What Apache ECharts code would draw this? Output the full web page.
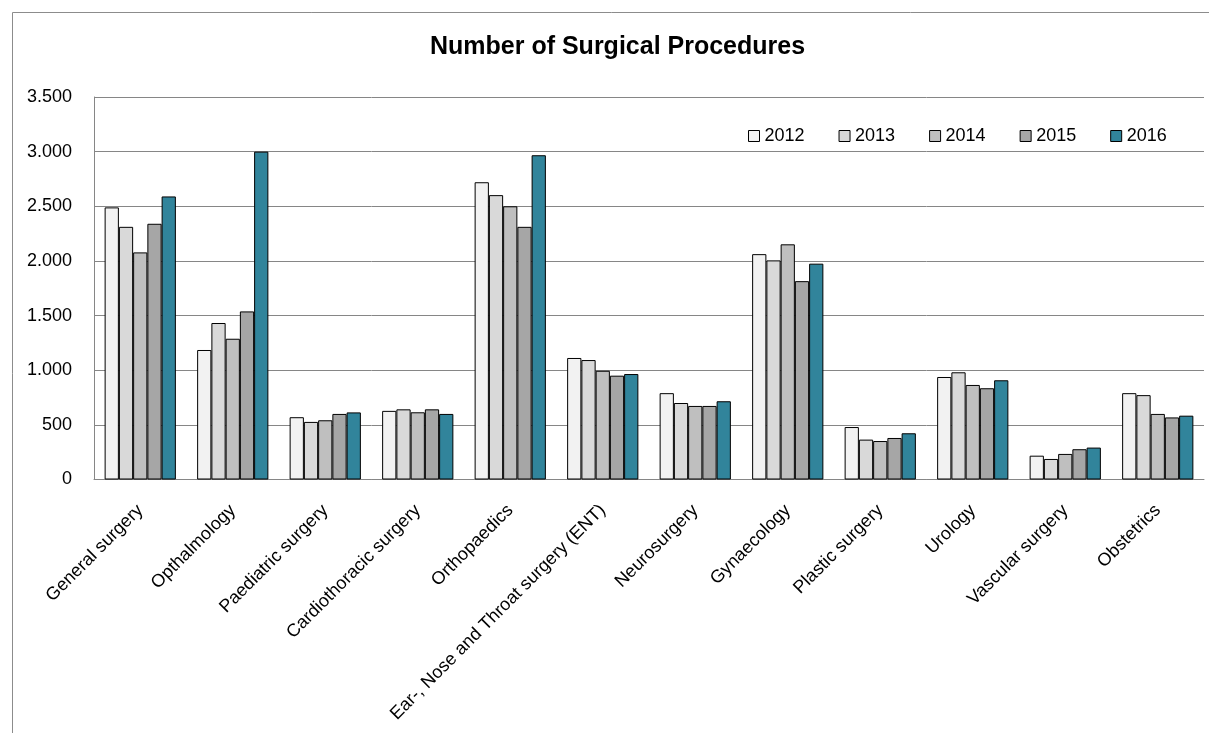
<!DOCTYPE html>
<html>
<head>
<meta charset="utf-8">
<script src="https://cdn.jsdelivr.net/npm/echarts@6/dist/echarts.min.js"></script>
<style>
html,body{margin:0;padding:0;background:#fff;}
#chart{width:1209px;height:733px;}
</style>
</head>
<body>
<div id="chart"></div>
<script>
const categories = ["General surgery","Opthalmology","Paediatric surgery","Cardiothoracic surgery","Orthopaedics","Ear-, Nose and Throat surgery (ENT)","Neurosurgery","Gynaecology","Plastic surgery","Urology","Vascular surgery","Obstetrics"];
const years = ["2012","2013","2014","2015","2016"];
const v2012 = [2490,1185,570,628,2720,1112,790,2062,480,938,218,790];
const v2013 = [2312,1432,527,642,2602,1093,700,2005,365,981,188,772];
const v2014 = [2078,1288,542,615,2500,995,673,2152,352,865,234,600];
const v2015 = [2340,1538,600,642,2312,950,673,1815,380,835,277,568];
const v2016 = [2590,3000,614,600,2967,965,716,1975,423,908,292,584];
const yTicks = [0,500,1000,1500,2000,2500,3000,3500];
const colors = ["#f2f2f2","#d9d9d9","#bfbfbf","#a6a6a6","#31849b"];
const seriesValues = [v2012,v2013,v2014,v2015,v2016];

const chart = echarts.init(document.getElementById('chart'), null, {renderer:'canvas'});
const fontFamily = '"Liberation Sans", Arial, sans-serif';
chart.setOption({
  animation:false,
  backgroundColor:'#ffffff',
  textStyle:{fontFamily:fontFamily},
  graphic:[{type:'rect',shape:{x:12.5,y:12.5,width:1300,height:900},style:{fill:'none',stroke:'#8c8c8c',lineWidth:1},silent:true}],
  title:{text:'Number of Surgical Procedures',left:425,top:30,textStyle:{fontSize:25,fontWeight:'bold',color:'#000',fontFamily:fontFamily}},
  legend:{data:years,left:743,top:122,itemWidth:11,itemHeight:11,itemGap:34,icon:'rect',
    textStyle:{fontSize:18,color:'#000',fontFamily:fontFamily},
    itemStyle:{borderColor:'#000',borderWidth:1}},
  grid:{left:94,right:5,top:97,bottom:253.5,containLabel:false},
  xAxis:{type:'category',data:categories,
    axisLine:{show:true,lineStyle:{color:'#868686',width:1}},
    axisTick:{show:false},
    axisLabel:{rotate:45,interval:0,fontSize:18,color:'#000',margin:28,fontFamily:fontFamily},
    splitLine:{show:false}},
  yAxis:{type:'value',min:yTicks[0],max:yTicks[yTicks.length-1],interval:500,
    axisLine:{show:true,lineStyle:{color:'#868686',width:1}},
    axisTick:{show:false},
    splitLine:{show:true,lineStyle:{color:'#868686',width:1}},
    axisLabel:{fontSize:18,color:'#000',margin:22,fontFamily:fontFamily,
      formatter:function(v){return String(v).replace(/\B(?=(\d{3})+(?!\d))/g,'.');}}},
  series:years.map(function(y,i){return {
    name:y,type:'bar',data:seriesValues[i],barGap:'0%',barCategoryGap:'23%',
    itemStyle:{color:colors[i],borderColor:'#000',borderWidth:1}
  };})
});
</script>
</body>
</html>
